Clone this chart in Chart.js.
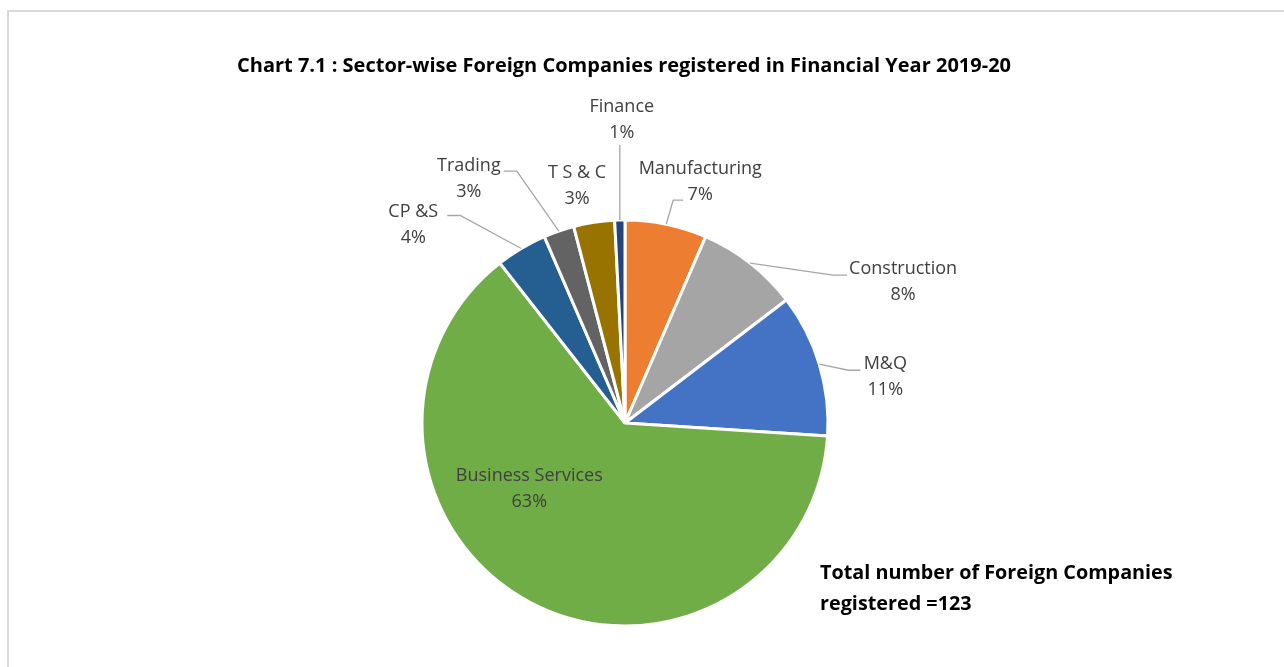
<!DOCTYPE html>
<html>
<head>
<meta charset="utf-8">
<script src="https://cdn.jsdelivr.net/npm/chart.js@4.4.1/dist/chart.umd.min.js"></script>
<style>
  html,body{margin:0;padding:0;background:#fff;overflow:hidden}
  #frame{position:absolute;left:7px;top:10px;width:1400px;height:800px;border:2px solid #d9d9d9}
  #wrap{position:absolute;left:0;top:0;width:1284px;height:667px}
</style>
</head>
<body>
<div id="frame"></div>
<div id="wrap"><canvas id="pie" width="1284" height="667"></canvas></div>
<script>
// dados do gráfico (número de empresas por setor)
const sectors = ['Manufacturing','Construction','M&Q','Business Services','CP &S','Trading','T S & C','Finance'];
const companies = [8,10,14,78,5,3,4,1];
const pctLabels = ['7%','8%','11%','63%','4%','3%','3%','1%'];
const sliceColors = ['#ED7D31','#A5A5A5','#4472C4','#70AD47','#255E91','#636363','#997300','#264478'];
const titleText = 'Chart 7.1 : Sector-wise Foreign Companies registered in Financial Year 2019-20';
const noteLines = ['Total number of Foreign Companies','registered =123'];

// posição dos rótulos relativa ao ponto médio externo de cada fatia
const labelLayout = [
  {dx:34, dy:-42, leader:[[7,-24],[17,-24]]},
  {dx:153, dy:19, leader:[[83,12],[97,12]]},
  {dx:66, dy:13, leader:[[29,6],[41,6]]},
  {dx:-1, dy:-114, leader:null},
  {dx:-108, dy:-24, leader:[[-61,-33],[-74,-33]]},
  {dx:-90, dy:-52, leader:[[-42,-60],[-55,-60]]},
  {dx:-17, dy:-37, leader:null},
  {dx:2, dy:-100, leader:[[0,-75]]}
];

const FONT = '"Open Sans", "Liberation Sans", sans-serif';

const labelPlugin = {
  id:'pieLabels',
  afterDatasetsDraw(chart){
    const ctx = chart.ctx;
    const arcs = chart.getDatasetMeta(0).data;
    ctx.save();
    arcs.forEach((arc,i)=>{
      const p = arc.getProps(['x','y','startAngle','endAngle','outerRadius'],true);
      const mid = (p.startAngle + p.endAngle)/2;
      const ax = p.x + Math.cos(mid)*p.outerRadius;
      const ay = p.y + Math.sin(mid)*p.outerRadius;
      const lay = labelLayout[i];
      if(lay.leader){
        ctx.strokeStyle = '#a6a6a6';
        ctx.lineWidth = 1.3;
        ctx.beginPath();
        ctx.moveTo(ax,ay);
        lay.leader.forEach(pt=>ctx.lineTo(ax+pt[0],ay+pt[1]));
        ctx.stroke();
      }
      const tx = ax + lay.dx, ty = ay + lay.dy;
      ctx.fillStyle = '#404040';
      ctx.font = '18px ' + FONT;
      ctx.textAlign = 'center';
      ctx.textBaseline = 'middle';
      ctx.fillText(sectors[i], tx, ty - 13);
      ctx.fillText(pctLabels[i], tx, ty + 13);
    });
    // título e nota
    ctx.fillStyle = '#000';
    ctx.font = 'bold 20px ' + FONT;
    ctx.textAlign = 'center';
    ctx.fillText(titleText, 624, 66);
    ctx.textAlign = 'left';
    ctx.font = 'bold 19.8px ' + FONT;
    ctx.fillText(noteLines[0], 820, 573);
    ctx.fillText(noteLines[1], 820, 604);
    ctx.restore();
  }
};

new Chart(document.getElementById('pie').getContext('2d'),{
  type:'pie',
  data:{
    labels:sectors,
    datasets:[{
      data:companies,
      backgroundColor:sliceColors,
      borderColor:'#ffffff',
      borderWidth:3,
      radius:203
    }]
  },
  options:{
    responsive:false,
    animation:false,
    layout:{padding:{left:200,right:234,top:200,bottom:21}},
    plugins:{legend:{display:false},tooltip:{enabled:false},title:{display:false}}
  },
  plugins:[labelPlugin]
});
</script>
</body>
</html>
